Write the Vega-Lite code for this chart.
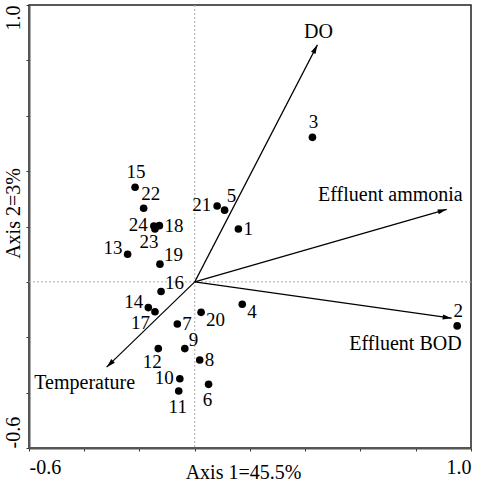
{
  "$schema": "https://vega.github.io/schema/vega-lite/v6.json",
  "autosize": {"type": "none"},
  "width": 442,
  "height": 443,
  "padding": {"left": 29, "top": 5, "right": 6, "bottom": 35},
  "background": "white",
  "config": {
    "view": {"stroke": "#222", "strokeWidth": 1.5},
    "text": {"font": "Liberation Serif", "fontSize": 19, "color": "black", "baseline": "middle"},
    "axis": {
      "grid": false,
      "domainColor": "#555",
      "domainWidth": 2,
      "tickColor": "#333",
      "tickSize": 3,
      "labelFont": "Liberation Serif",
      "labelFontSize": 20,
      "labelColor": "black",
      "labelOverlap": false,
      "titleFont": "Liberation Serif",
      "titleFontSize": 20,
      "titleFontWeight": "normal",
      "titleColor": "black"
    }
  },
  "datasets": {
    "pts": [
      {"id": "1", "x": 0.158, "y": 0.191},
      {"id": "2", "x": 0.950, "y": -0.159},
      {"id": "3", "x": 0.426, "y": 0.522},
      {"id": "4", "x": 0.172, "y": -0.081},
      {"id": "5", "x": 0.108, "y": 0.259},
      {"id": "6", "x": 0.050, "y": -0.370},
      {"id": "7", "x": -0.063, "y": -0.152},
      {"id": "8", "x": 0.018, "y": -0.282},
      {"id": "9", "x": -0.036, "y": -0.241},
      {"id": "10", "x": -0.054, "y": -0.350},
      {"id": "11", "x": -0.058, "y": -0.394},
      {"id": "12", "x": -0.132, "y": -0.241},
      {"id": "13", "x": -0.243, "y": 0.100},
      {"id": "14", "x": -0.168, "y": -0.093},
      {"id": "15", "x": -0.216, "y": 0.342},
      {"id": "16", "x": -0.122, "y": -0.035},
      {"id": "17", "x": -0.144, "y": -0.108},
      {"id": "18", "x": -0.128, "y": 0.203},
      {"id": "19", "x": -0.126, "y": 0.064},
      {"id": "20", "x": 0.023, "y": -0.110},
      {"id": "21", "x": 0.081, "y": 0.274},
      {"id": "22", "x": -0.185, "y": 0.266},
      {"id": "23", "x": -0.144, "y": 0.191},
      {"id": "24", "x": -0.148, "y": 0.202}
    ],
    "arrows": [
      {"var": "DO", "x0": 0, "y0": 0, "x": 0.444, "y": 0.856},
      {"var": "Effluent ammonia", "x0": 0, "y0": 0, "x": 0.912, "y": 0.262},
      {"var": "Effluent BOD", "x0": 0, "y0": 0, "x": 0.930, "y": -0.131},
      {"var": "Temperature", "x0": 0, "y0": 0, "x": -0.319, "y": -0.308}
    ],
    "zero": [{"v": 0}]
  },
  "layer": [
    {
      "data": {"name": "pts"},
      "mark": {"type": "circle", "size": 58, "color": "black", "opacity": 1},
      "encoding": {
        "x": {
          "field": "x",
          "type": "quantitative",
          "scale": {"domain": [-0.6, 1.0], "nice": false, "zero": false},
          "axis": {
            "title": "Axis 1=45.5%",
            "values": [-0.6, -0.4, -0.2, 0, 0.2, 0.4, 0.6, 0.8, 1.0],
            "labelExpr": "datum.value < -0.5 ? '-0.6' : (datum.value > 0.9 ? '1.0' : '')",
            "labelAlign": {"condition": {"test": "datum.value < 0", "value": "left"}, "value": "right"},
            "labelBaseline": "top",
            "labelPadding": 6,
            "titleX": 214,
            "titleY": 30,
            "titleAlign": "center",
            "titleBaseline": "alphabetic"
          }
        },
        "y": {
          "field": "y",
          "type": "quantitative",
          "scale": {"domain": [-0.6, 1.0], "nice": false, "zero": false},
          "axis": {
            "title": "Axis 2=3%",
            "values": [-0.6, -0.4, -0.2, 0, 0.2, 0.4, 0.6, 0.8, 1.0],
            "labelExpr": "datum.value < -0.5 ? '-0.6' : (datum.value > 0.9 ? '1.0' : '')",
            "labelAngle": -90,
            "labelAlign": {"condition": {"test": "datum.value < 0", "value": "left"}, "value": "right"},
            "labelBaseline": "middle",
            "labelPadding": 13,
            "titleAngle": -90,
            "titleX": -16,
            "titleY": 208,
            "titleAlign": "center",
            "titleBaseline": "middle"
          }
        }
      }
    },
    {
      "data": {"name": "zero"},
      "mark": {"type": "rule", "color": "#aaa", "strokeWidth": 1, "strokeDash": [2, 2]},
      "encoding": {"x": {"field": "v", "type": "quantitative"}}
    },
    {
      "data": {"name": "zero"},
      "mark": {"type": "rule", "color": "#aaa", "strokeWidth": 1, "strokeDash": [2, 2]},
      "encoding": {"y": {"field": "v", "type": "quantitative"}}
    },
    {
      "data": {"name": "arrows"},
      "mark": {"type": "rule", "color": "black", "strokeWidth": 1.2},
      "encoding": {
        "x": {"field": "x0", "type": "quantitative"},
        "y": {"field": "y0", "type": "quantitative"},
        "x2": {"field": "x"},
        "y2": {"field": "y"}
      }
    },
    {
      "data": {"name": "arrows"},
      "transform": [{"filter": "datum.var == 'DO'"}],
      "mark": {"type": "point", "shape": "M0,0L-0.28,1L0.28,1Z", "filled": true, "color": "black", "opacity": 1, "size": 324, "angle": 27.4},
      "encoding": {"x": {"field": "x", "type": "quantitative"}, "y": {"field": "y", "type": "quantitative"}}
    },
    {
      "data": {"name": "arrows"},
      "transform": [{"filter": "datum.var == 'Effluent ammonia'"}],
      "mark": {"type": "point", "shape": "M0,0L-0.28,1L0.28,1Z", "filled": true, "color": "black", "opacity": 1, "size": 324, "angle": 73.9},
      "encoding": {"x": {"field": "x", "type": "quantitative"}, "y": {"field": "y", "type": "quantitative"}}
    },
    {
      "data": {"name": "arrows"},
      "transform": [{"filter": "datum.var == 'Effluent BOD'"}],
      "mark": {"type": "point", "shape": "M0,0L-0.28,1L0.28,1Z", "filled": true, "color": "black", "opacity": 1, "size": 324, "angle": 98.0},
      "encoding": {"x": {"field": "x", "type": "quantitative"}, "y": {"field": "y", "type": "quantitative"}}
    },
    {
      "data": {"name": "arrows"},
      "transform": [{"filter": "datum.var == 'Temperature'"}],
      "mark": {"type": "point", "shape": "M0,0L-0.28,1L0.28,1Z", "filled": true, "color": "black", "opacity": 1, "size": 324, "angle": 225.9},
      "encoding": {"x": {"field": "x", "type": "quantitative"}, "y": {"field": "y", "type": "quantitative"}}
    },
    {
      "data": {"name": "arrows"},
      "transform": [{"filter": "datum.var == 'DO'"}],
      "mark": {"type": "text", "fontSize": 20, "align": "center", "dx": 1, "dy": -13},
      "encoding": {"x": {"field": "x", "type": "quantitative"}, "y": {"field": "y", "type": "quantitative"}, "text": {"field": "var", "type": "nominal"}}
    },
    {
      "data": {"name": "arrows"},
      "transform": [{"filter": "datum.var == 'Effluent ammonia'"}],
      "mark": {"type": "text", "fontSize": 20, "align": "right", "dx": 16, "dy": -14},
      "encoding": {"x": {"field": "x", "type": "quantitative"}, "y": {"field": "y", "type": "quantitative"}, "text": {"field": "var", "type": "nominal"}}
    },
    {
      "data": {"name": "arrows"},
      "transform": [{"filter": "datum.var == 'Effluent BOD'"}],
      "mark": {"type": "text", "fontSize": 20, "align": "right", "dx": 10, "dy": 26},
      "encoding": {"x": {"field": "x", "type": "quantitative"}, "y": {"field": "y", "type": "quantitative"}, "text": {"field": "var", "type": "nominal"}}
    },
    {
      "data": {"name": "arrows"},
      "transform": [{"filter": "datum.var == 'Temperature'"}],
      "mark": {"type": "text", "fontSize": 20, "align": "center", "dx": -22, "dy": 16},
      "encoding": {"x": {"field": "x", "type": "quantitative"}, "y": {"field": "y", "type": "quantitative"}, "text": {"field": "var", "type": "nominal"}}
    },
    {
      "data": {"name": "pts"},
      "transform": [{"filter": {"field": "id", "oneOf": ["1", "7", "8", "18"]}}],
      "mark": {"type": "text", "align": "left", "dx": 5, "dy": 0},
      "encoding": {"x": {"field": "x", "type": "quantitative"}, "y": {"field": "y", "type": "quantitative"}, "text": {"field": "id", "type": "nominal"}}
    },
    {
      "data": {"name": "pts"},
      "transform": [{"filter": {"field": "id", "oneOf": ["2", "3", "15"]}}],
      "mark": {"type": "text", "align": "center", "dx": 1, "dy": -15},
      "encoding": {"x": {"field": "x", "type": "quantitative"}, "y": {"field": "y", "type": "quantitative"}, "text": {"field": "id", "type": "nominal"}}
    },
    {
      "data": {"name": "pts"},
      "transform": [{"filter": {"field": "id", "oneOf": ["6", "11"]}}],
      "mark": {"type": "text", "align": "center", "dx": -1, "dy": 16},
      "encoding": {"x": {"field": "x", "type": "quantitative"}, "y": {"field": "y", "type": "quantitative"}, "text": {"field": "id", "type": "nominal"}}
    },
    {
      "data": {"name": "pts"},
      "transform": [{"filter": {"field": "id", "oneOf": ["9", "16", "19"]}}],
      "mark": {"type": "text", "align": "left", "dx": 4, "dy": -9},
      "encoding": {"x": {"field": "x", "type": "quantitative"}, "y": {"field": "y", "type": "quantitative"}, "text": {"field": "id", "type": "nominal"}}
    },
    {
      "data": {"name": "pts"},
      "transform": [{"filter": {"field": "id", "oneOf": ["5", "22"]}}],
      "mark": {"type": "text", "align": "center", "dx": 7, "dy": -14},
      "encoding": {"x": {"field": "x", "type": "quantitative"}, "y": {"field": "y", "type": "quantitative"}, "text": {"field": "id", "type": "nominal"}}
    },
    {
      "data": {"name": "pts"},
      "transform": [{"filter": {"field": "id", "oneOf": ["10", "21", "24"]}}],
      "mark": {"type": "text", "align": "right", "dx": -6, "dy": -1},
      "encoding": {"x": {"field": "x", "type": "quantitative"}, "y": {"field": "y", "type": "quantitative"}, "text": {"field": "id", "type": "nominal"}}
    },
    {
      "data": {"name": "pts"},
      "transform": [{"filter": {"field": "id", "oneOf": ["13", "14"]}}],
      "mark": {"type": "text", "align": "right", "dx": -5, "dy": -6},
      "encoding": {"x": {"field": "x", "type": "quantitative"}, "y": {"field": "y", "type": "quantitative"}, "text": {"field": "id", "type": "nominal"}}
    },
    {
      "data": {"name": "pts"},
      "transform": [{"filter": {"field": "id", "oneOf": ["12", "23"]}}],
      "mark": {"type": "text", "align": "center", "dx": -6, "dy": 13},
      "encoding": {"x": {"field": "x", "type": "quantitative"}, "y": {"field": "y", "type": "quantitative"}, "text": {"field": "id", "type": "nominal"}}
    },
    {
      "data": {"name": "pts"},
      "transform": [{"filter": {"field": "id", "oneOf": ["17"]}}],
      "mark": {"type": "text", "align": "right", "dx": -5, "dy": 11},
      "encoding": {"x": {"field": "x", "type": "quantitative"}, "y": {"field": "y", "type": "quantitative"}, "text": {"field": "id", "type": "nominal"}}
    },
    {
      "data": {"name": "pts"},
      "transform": [{"filter": {"field": "id", "oneOf": ["4", "20"]}}],
      "mark": {"type": "text", "align": "left", "dx": 5, "dy": 8},
      "encoding": {"x": {"field": "x", "type": "quantitative"}, "y": {"field": "y", "type": "quantitative"}, "text": {"field": "id", "type": "nominal"}}
    }
  ]
}
